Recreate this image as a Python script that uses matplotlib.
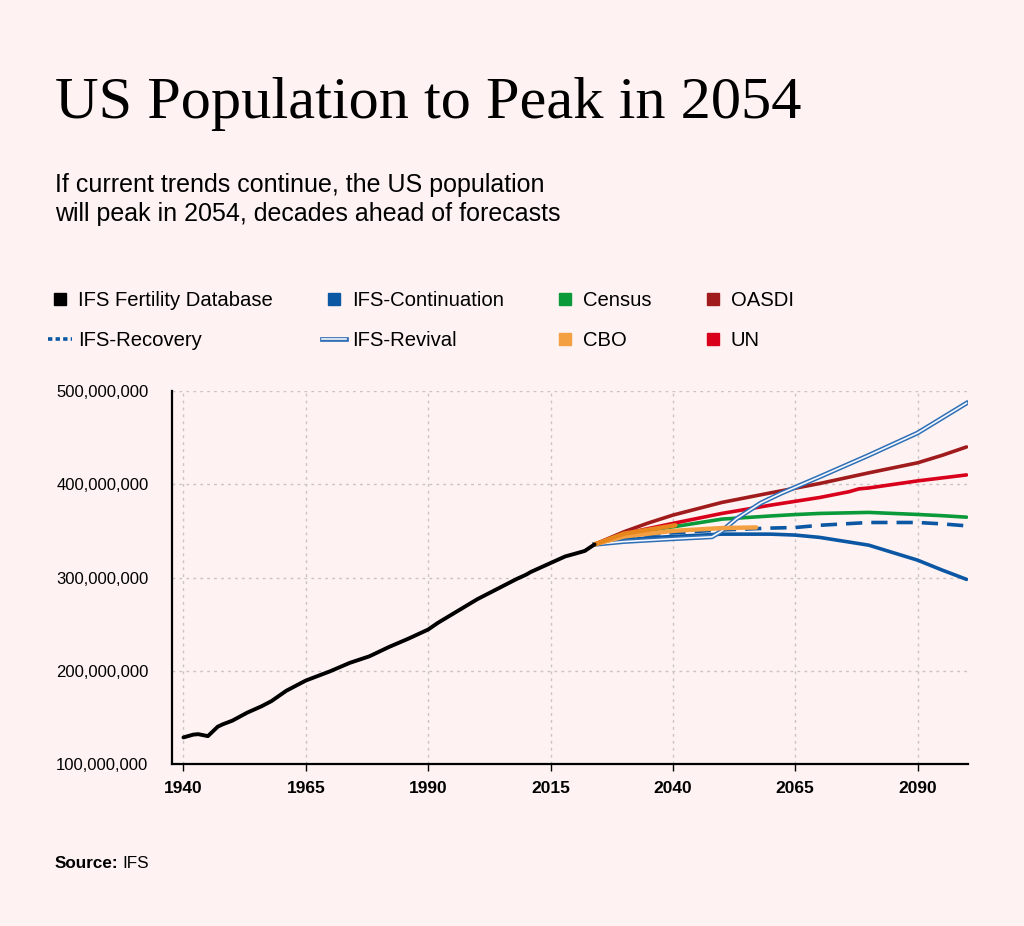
import matplotlib
matplotlib.use("Agg")
import matplotlib.pyplot as plt
from matplotlib.lines import Line2D
from matplotlib.ticker import FuncFormatter
import matplotlib.patheffects as pe

# ---------------- data ----------------
hist_years = [1940, 1942, 1943, 1945, 1947, 1948, 1950, 1953, 1956, 1958, 1961, 1965, 1970,
              1974, 1978, 1982, 1986, 1990, 1992, 1996, 2000, 2004, 2008, 2010, 2011, 2015,
              2018, 2020, 2021, 2022, 2023, 2024]
hist_pop = [128.5, 131.5, 132.0, 129.9, 140.0, 142.5, 146.5, 155.0, 162.0, 167.5, 178.5, 189.5,
            199.5, 208.5, 215.5, 225.5, 234.5, 244.2, 251.4, 264.0, 276.6, 287.4, 298.2, 303.0,
            306.0, 315.5, 322.6, 325.5, 327.0, 328.5, 332.0, 335.5]

proj_years = [2024, 2030, 2035, 2040, 2050, 2060, 2065, 2070, 2080, 2090, 2095, 2100]
continuation = [335.5, 340.0, 342.5, 344.0, 346.5, 346.5, 345.5, 343.0, 334.7, 318.6, 308.0, 298.0]
recovery     = [335.5, 343.0, 346.0, 348.0, 351.0, 353.0, 353.6, 356.0, 359.0, 359.0, 357.5, 355.4]
census       = [335.5, 346.0, 350.5, 354.3, 362.6, 366.0, 367.5, 368.7, 369.8, 367.6, 366.3, 364.7]
oasdi        = [335.5, 349.0, 358.5, 366.9, 380.5, 390.8, 395.8, 400.8, 412.2, 423.0, 431.0, 440.0]
un_years     = [2024, 2030, 2040, 2050, 2060, 2070, 2076, 2078, 2080, 2090, 2100]
un           = [335.5, 347.0, 358.0, 368.7, 377.6, 385.8, 392.0, 395.0, 396.0, 403.6, 410.0]
revival_years = [2024, 2030, 2040, 2048, 2050, 2053, 2058, 2062, 2070, 2080, 2090, 2095, 2100]
revival       = [335.5, 338.5, 341.5, 343.6, 350.0, 363.0, 380.0, 390.0, 408.0, 431.0, 455.0, 471.0, 487.0]
cbo_years = [2024, 2030, 2040, 2050, 2057]
cbo       = [335.5, 344.0, 350.0, 353.0, 353.7]
cbo10_years = [2024, 2030, 2040.5]
cbo10       = [335.5, 347.0, 356.0]

x_ticks = [1940, 1965, 1990, 2015, 2040, 2065, 2090]
y_ticks = [100, 200, 300, 400, 500]

# ---------------- style ----------------
BG = "#FEF3F2"
C_BLACK = "#000000"
C_CONT = "#0B57A4"
C_REV = "#2F6FB6"
C_CENSUS = "#0A9A3A"
C_OASDI = "#A01B1B"
C_UN = "#D9001B"
C_CBO = "#F3A043"
C_CBO10 = "#E8861E"

plt.rcParams['font.family'] = ['Liberation Sans', 'DejaVu Sans']

fig = plt.figure(figsize=(10.24, 9.26), dpi=100, facecolor=BG)
ax = fig.add_axes([172/1024, 1-764/926, (968-172)/1024, (764-391)/926])
ax.set_facecolor(BG)

M = 1e6
def s(v):
    return [x * M for x in v]

ax.plot(hist_years, s(hist_pop), color=C_BLACK, lw=2.8, solid_capstyle='round',
        solid_joinstyle='round', zorder=5)
ax.plot(proj_years, s(continuation), color=C_CONT, lw=2.6, solid_capstyle='round', zorder=4)
ax.plot(proj_years, s(recovery), color=C_CONT, lw=2.6, ls=(0, (4.5, 2.5)), zorder=4)
ax.plot(proj_years, s(census), color=C_CENSUS, lw=2.6, solid_capstyle='round', zorder=4)
ax.plot(proj_years, s(oasdi), color=C_OASDI, lw=2.6, solid_capstyle='round', zorder=4)
ax.plot(un_years, s(un), color=C_UN, lw=2.6, solid_capstyle='round', zorder=4)
rev_fx = [pe.Stroke(linewidth=3.4, foreground=C_REV), pe.Normal()]
ax.plot(revival_years, s(revival), color="#F4F7FC", lw=1.2, zorder=4.5, path_effects=rev_fx)
ax.plot(cbo_years, s(cbo), color=C_CBO, lw=3.2, solid_capstyle='round', zorder=4.6)
ax.plot(cbo10_years, s(cbo10), color=C_CBO10, lw=3.2, solid_capstyle='round', zorder=4.7)

ax.set_xlim(1937.66, 2100.3)
ax.set_ylim(100 * M, 500 * M)
ax.set_xticks(x_ticks)
ax.set_yticks([v * M for v in y_ticks])
ax.yaxis.set_major_formatter(FuncFormatter(lambda v, p: f"{int(round(v)):,}"))

for sp in ['top', 'right']:
    ax.spines[sp].set_visible(False)
for sp in ['left', 'bottom']:
    ax.spines[sp].set_linewidth(1.6)
    ax.spines[sp].set_color('black')

ax.grid(True, color="#C9C4C4", ls=(0, (2, 3)), lw=1.0)
ax.set_axisbelow(True)
ax.tick_params(axis='y', length=0, pad=17, labelsize=12)
ax.tick_params(axis='x', length=5, width=1.0, pad=7, labelsize=12.5)
for lbl in ax.get_xticklabels():
    lbl.set_fontweight('bold')

# ---------------- texts ----------------
fig.text(55/1024, 1-118/926, "US Population to Peak in 2054", family='Liberation Serif',
         fontsize=43.5, color='black', va='baseline', ha='left')
fig.text(55/1024, 1-192/926, "If current trends continue, the US population", fontsize=18,
         va='baseline', ha='left')
fig.text(55/1024, 1-221/926, "will peak in 2054, decades ahead of forecasts", fontsize=18,
         va='baseline', ha='left')

src = fig.text(55/1024, 1-868/926, "Source:", fontsize=12.3, fontweight='bold', va='baseline', ha='left')
fig.canvas.draw()
bb = src.get_window_extent()
fig.text((bb.x1 + 4)/1024, 1-868/926, "IFS", fontsize=12.3, va='baseline', ha='left')

# ---------------- legend ----------------
def sq(c):
    return Line2D([], [], ls='none', marker='s', markersize=8.5, color=c)

h_fert = sq(C_BLACK)
h_cont = sq(C_CONT)
h_census = sq(C_CENSUS)
h_oasdi = sq(C_OASDI)
h_rec = Line2D([], [], color=C_CONT, lw=2.6, ls=(0, (1.2, 0.9)))
h_rev = Line2D([], [], color="#F4F7FC", lw=1.2, path_effects=rev_fx)
h_cbo = sq(C_CBO)
h_un = sq(C_UN)

handles = [h_fert, h_rec, h_cont, h_rev, h_census, h_cbo, h_oasdi, h_un]
labels = ["IFS Fertility Database", "IFS-Recovery", "IFS-Continuation", "IFS-Revival",
          "Census", "CBO", "OASDI", "UN"]
fig.legend(handles, labels, ncol=4, loc='upper left', bbox_to_anchor=(48/1024, 1-291/926),
           frameon=False, fontsize=14.6, handlelength=1.2, handletextpad=0.3,
           columnspacing=2.4, labelspacing=1.05, borderaxespad=0, borderpad=0)

fig.savefig("out.png", dpi=100, facecolor=BG)
